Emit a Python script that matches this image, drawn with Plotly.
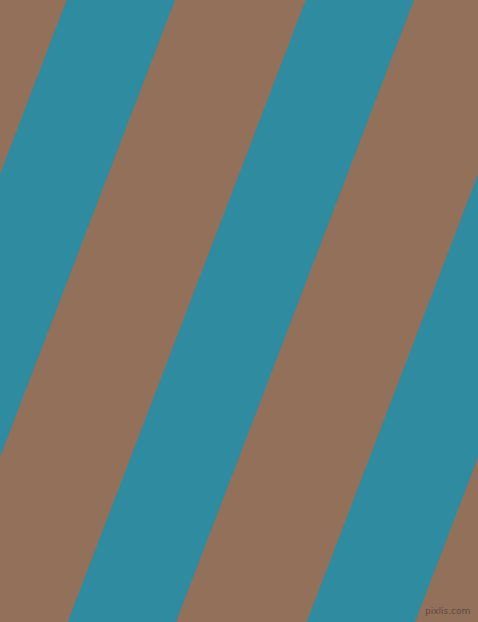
import plotly.graph_objects as go

# stripe geometry (pixels)
stripe_top_left = [-172.3, 66.7, 305.7, 544.7]   # teal stripe left edge at top row
stripe_width = 108.3                              # horizontal width of each teal stripe
drift = 238.0                                     # how far an edge moves left from top to bottom
W, H = 478, 622

brown = "#93705A"
teal = "#2E8BA0"

fig = go.Figure()

for x0 in stripe_top_left:
    xs = [x0, x0 + stripe_width, x0 + stripe_width - drift, x0 - drift, x0]
    ys = [0, 0, H, H, 0]
    fig.add_trace(go.Scatter(
        x=xs, y=ys, mode="lines", fill="toself",
        fillcolor=teal, line=dict(width=0, color=teal),
        hoverinfo="skip", showlegend=False
    ))

fig.add_annotation(
    text="pixlis.com", x=472, y=618, xref="x", yref="y",
    xanchor="right", yanchor="bottom", showarrow=False,
    font=dict(family="DejaVu Sans", size=9, color="#5a4a40")
)

fig.update_xaxes(range=[0, W], visible=False, fixedrange=True)
fig.update_yaxes(range=[H, 0], visible=False, fixedrange=True)
fig.update_layout(
    width=W, height=H,
    margin=dict(l=0, r=0, t=0, b=0),
    plot_bgcolor=brown, paper_bgcolor=brown,
)

# the page's default body margin would leave a white frame
fig.write_html(
    "out.html",
    config={"displayModeBar": False},
    post_script="document.body.style.margin='0';document.body.style.overflow='hidden';",
)
